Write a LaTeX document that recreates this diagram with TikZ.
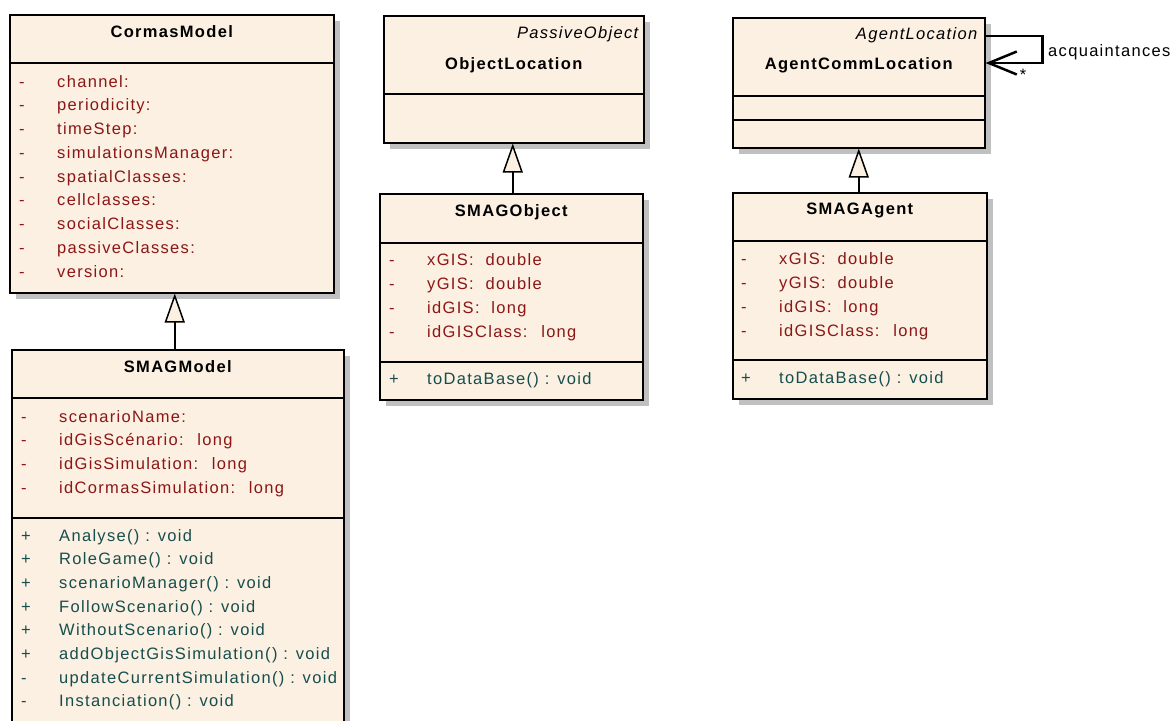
\documentclass[tikz,border=0pt]{standalone}
\usepackage{fontspec}
\setmainfont{Liberation Sans}
\newfontfamily\umlfont[LetterSpace=8]{Liberation Sans}
\usepackage{xcolor}
\usetikzlibrary{positioning,shadows,arrows.meta}

\definecolor{umlfill}{RGB}{251,240,226}
\definecolor{umlshadow}{RGB}{192,192,192}
\definecolor{attrred}{RGB}{140,22,22}
\definecolor{operteal}{RGB}{22,78,78}
\newcommand{\vis}[1]{\makebox[38pt][l]{#1}}

\begin{document}
\begin{tikzpicture}[%UML class diagram
  x=1pt, y=-1pt,
  classbox/.style={rectangle, draw=black, line width=1.5pt, fill=umlfill, anchor=north west,
    drop shadow={shadow xshift=6pt, shadow yshift=-6pt, fill=umlshadow, opacity=1}},
  sepline/.style={draw=black, line width=1.5pt},
  classname/.style={anchor=base, inner sep=0pt, font=\umlfont\bfseries\fontsize{16.5}{19}\selectfont},
  stereo/.style={anchor=base east, inner sep=0pt, font=\umlfont\itshape\fontsize{16.5}{19}\selectfont},
  attr/.style={anchor=base west, inner sep=0pt, text=attrred, font=\umlfont\fontsize{16.5}{19}\selectfont},
  oper/.style={anchor=base west, inner sep=0pt, text=operteal, font=\umlfont\fontsize{16.5}{19}\selectfont},
  inherit/.style={line width=1.5pt, -{Triangle[length=29pt, width=20pt, fill=umlfill]}},
  selfloop/.style={line width=2.5pt, -{Straight Barb[length=28pt, width=23pt]}},
  plain/.style={anchor=base west, inner sep=0pt, font=\umlfont\fontsize{16.5}{19}\selectfont}
]
\useasboundingbox (0,0) rectangle (1174,720);

%Class boxes
\node[classbox, minimum width=324pt, minimum height=278pt] (cormas) at (9,14) {};
\node[classbox, minimum width=332pt, minimum height=381pt] (smagmodel) at (11,349) {};
\node[classbox, minimum width=260pt, minimum height=127pt] (objloc) at (383,15) {};
\node[classbox, minimum width=263pt, minimum height=206pt] (smagobject) at (379,193) {};
\node[classbox, minimum width=252pt, minimum height=130pt] (agentcomm) at (732,17) {};
\node[classbox, minimum width=254pt, minimum height=206pt] (smagagent) at (732,192) {};

%Compartments
\draw[sepline] (cormas.west |- 0,63) -- (cormas.east |- 0,63);
\draw[sepline] (smagmodel.west |- 0,398) -- (smagmodel.east |- 0,398);
\draw[sepline] (smagmodel.west |- 0,518) -- (smagmodel.east |- 0,518);
\draw[sepline] (objloc.west |- 0,94) -- (objloc.east |- 0,94);
\draw[sepline] (smagobject.west |- 0,243) -- (smagobject.east |- 0,243);
\draw[sepline] (smagobject.west |- 0,362) -- (smagobject.east |- 0,362);
\draw[sepline] (agentcomm.west |- 0,96) -- (agentcomm.east |- 0,96);
\draw[sepline] (agentcomm.west |- 0,120) -- (agentcomm.east |- 0,120);
\draw[sepline] (smagagent.west |- 0,241) -- (smagagent.east |- 0,241);
\draw[sepline] (smagagent.west |- 0,360) -- (smagagent.east |- 0,360);

%Names
\node[classname] (cormasname) at (cormas.north |- 0,37) {CormasModel};
\node[classname] (smagmodelname) at (smagmodel.north |- 0,372) {SMAGModel};
\node[stereo] (objlocstereo) at ([xshift=-6pt]objloc.north east |- 0,38) {PassiveObject};
\node[classname] (objlocname) at (objloc.north |- 0,69) {ObjectLocation};
\node[classname] (smagobjectname) at (smagobject.north |- 0,216) {SMAGObject};
\node[stereo] (agentcommstereo) at ([xshift=-8pt]agentcomm.north east |- 0,39) {AgentLocation};
\node[classname] (agentcommname) at (agentcomm.north |- 0,69) {AgentCommLocation};
\node[classname] (smagagentname) at (smagagent.north |- 0,214) {SMAGAgent};

%CormasModel attributes
\node[attr] (cm1) at (19,87) {\vis{-}channel:};
\node[attr] (cm2) at (19,110.75) {\vis{-}periodicity:};
\node[attr] (cm3) at (19,134.5) {\vis{-}timeStep:};
\node[attr] (cm4) at (19,158.25) {\vis{-}simulationsManager:};
\node[attr] (cm5) at (19,182) {\vis{-}spatialClasses:};
\node[attr] (cm6) at (19,205.75) {\vis{-}cellclasses:};
\node[attr] (cm7) at (19,229.5) {\vis{-}socialClasses:};
\node[attr] (cm8) at (19,253.25) {\vis{-}passiveClasses:};
\node[attr] (cm9) at (19,277) {\vis{-}version:};

%SMAGModel members
\node[attr] (sm1) at (21,422) {\vis{-}scenarioName:};
\node[attr] (sm2) at (21,445.7) {\vis{-}idGisScénario:~ long};
\node[attr] (sm3) at (21,469.4) {\vis{-}idGisSimulation:~ long};
\node[attr] (sm4) at (21,493.1) {\vis{-}idCormasSimulation:~ long};
\node[oper] (smo1) at (21,541) {\vis{+}Analyse() : void};
\node[oper] (smo2) at (21,564.7) {\vis{+}RoleGame() : void};
\node[oper] (smo3) at (21,588.4) {\vis{+}scenarioManager() : void};
\node[oper] (smo4) at (21,612.1) {\vis{+}FollowScenario() : void};
\node[oper] (smo5) at (21,635.8) {\vis{+}WithoutScenario() : void};
\node[oper] (smo6) at (21,659.5) {\vis{+}addObjectGisSimulation() : void};
\node[oper] (smo7) at (21,683.2) {\vis{-}updateCurrentSimulation() : void};
\node[oper] (smo8) at (21,706.9) {\vis{-}Instanciation() : void};

%SMAGObject members
\node[attr] (so1) at (389,265) {\vis{-}xGIS:~ double};
\node[attr] (so2) at (389,289.3) {\vis{-}yGIS:~ double};
\node[attr] (so3) at (389,313.6) {\vis{-}idGIS:~ long};
\node[attr] (so4) at (389,337.9) {\vis{-}idGISClass:~ long};
\node[oper] (soo1) at (389,384) {\vis{+}toDataBase() : void};

%SMAGAgent members
\node[attr] (sa1) at (741,264) {\vis{-}xGIS:~ double};
\node[attr] (sa2) at (741,288) {\vis{-}yGIS:~ double};
\node[attr] (sa3) at (741,312) {\vis{-}idGIS:~ long};
\node[attr] (sa4) at (741,336.5) {\vis{-}idGISClass:~ long};
\node[oper] (sao1) at (741,383) {\vis{+}toDataBase() : void};

%Inheritance
\draw[inherit] ([xshift=-3pt]smagmodel.north) -- ([xshift=-3pt]smagmodel.north |- cormas.south);
\draw[inherit] ([xshift=1.5pt]smagobject.north) -- ([xshift=1.5pt]smagobject.north |- objloc.south);
\draw[inherit] ([xshift=-1pt]smagagent.north) -- ([xshift=-1pt]smagagent.north |- agentcomm.south);

%Self association
\draw[selfloop] ([yshift=-19pt]agentcomm.north east) -- ++(57,0) -- ++(0,27) -- ([yshift=-46pt]agentcomm.north east);
\node[plain] (acq) at (1048,56) {acquaintances};
\node[plain, anchor=center] (mult) at (1023,75) {*};
\end{tikzpicture}
\end{document}
